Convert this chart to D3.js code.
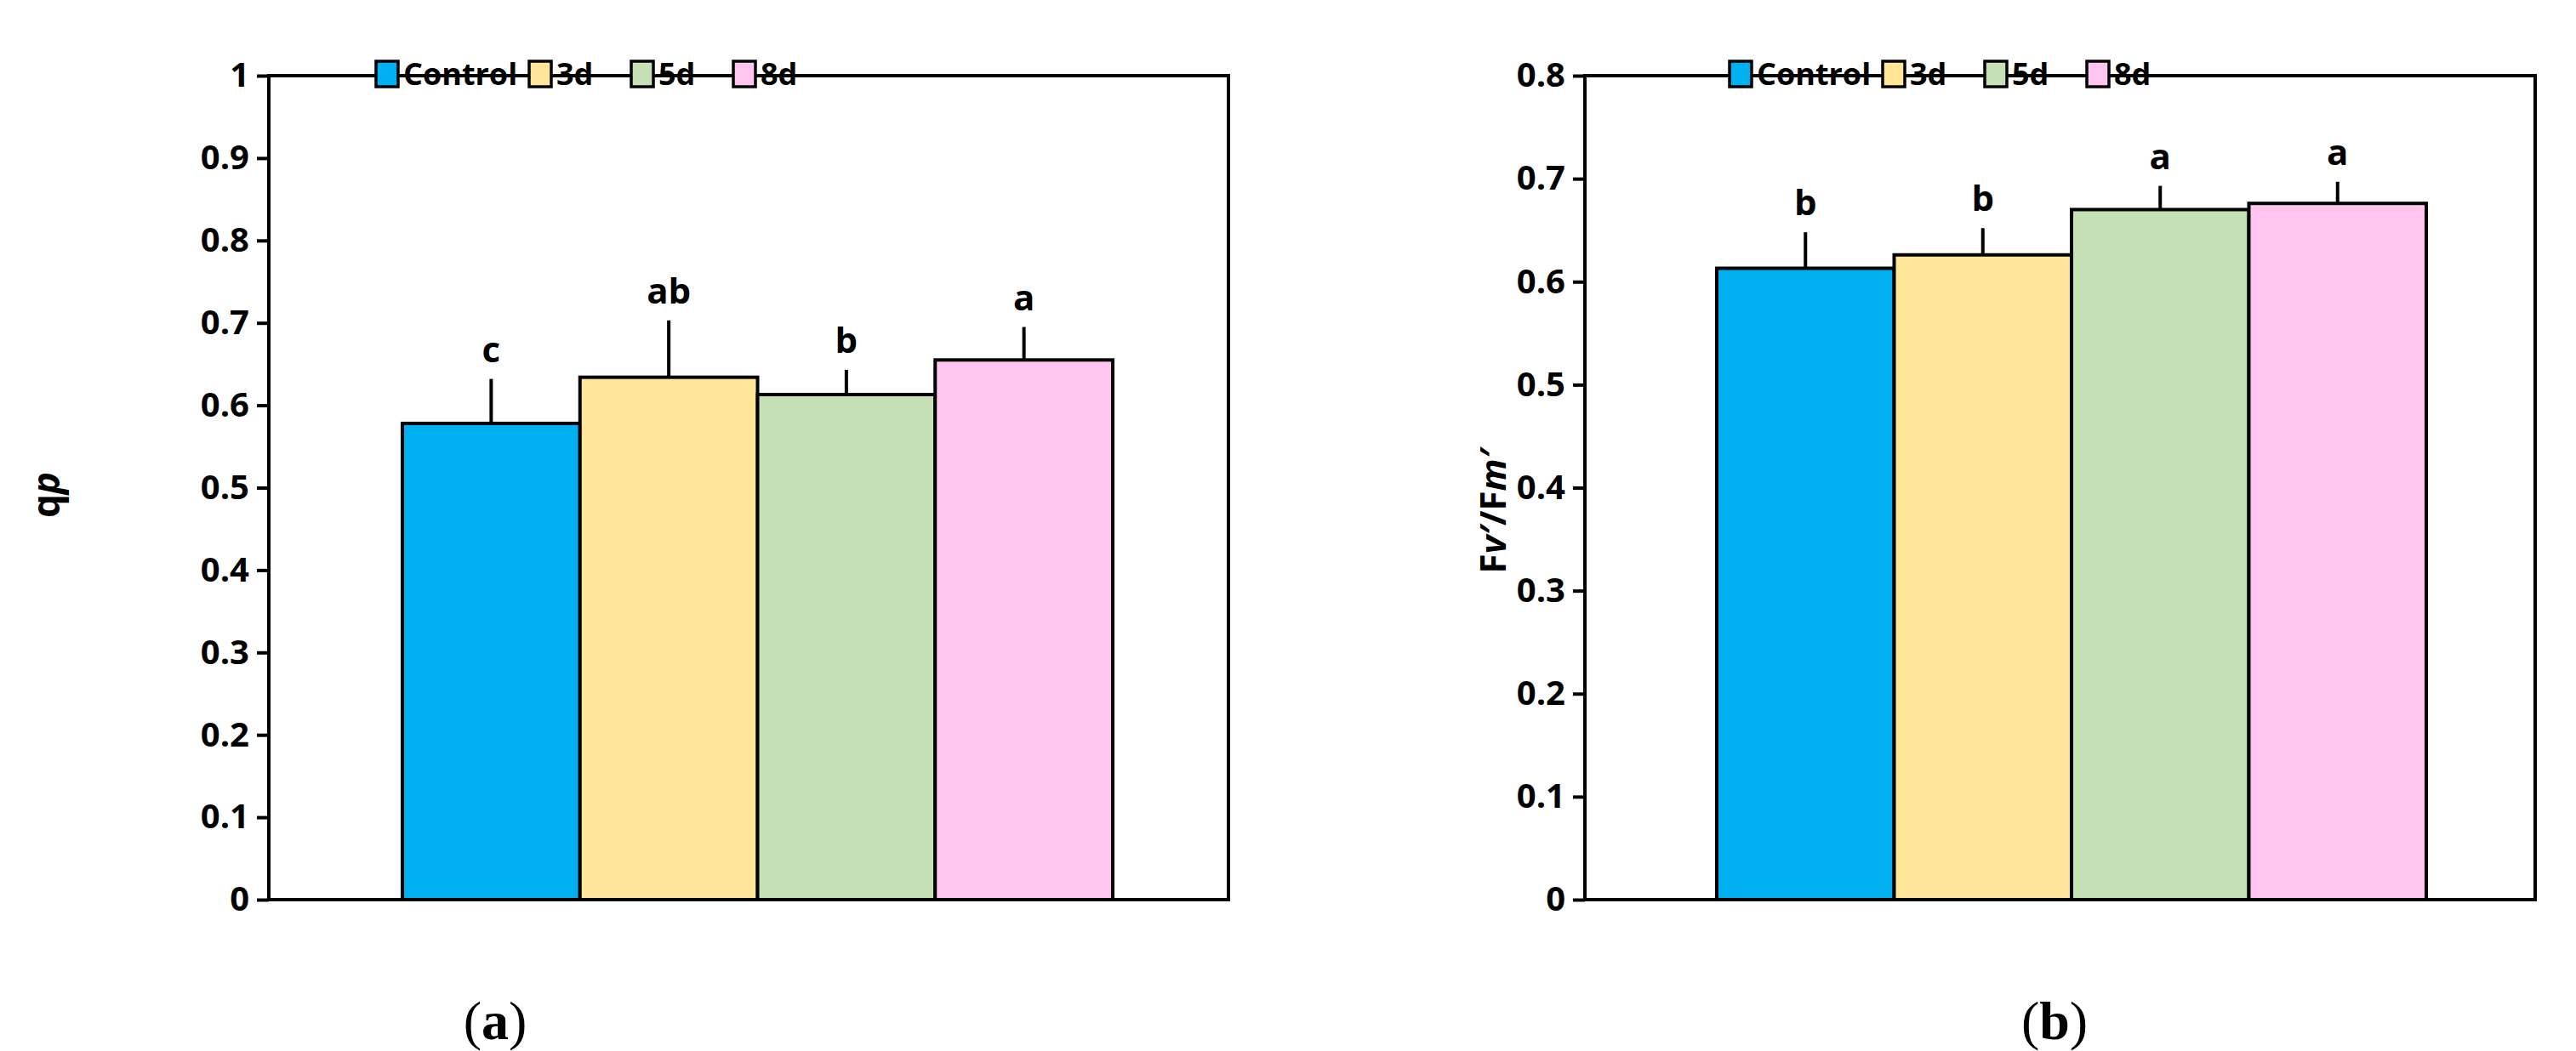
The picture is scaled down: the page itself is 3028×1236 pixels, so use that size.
<!DOCTYPE html><html><head><meta charset="utf-8"><script src="https://d3js.org/d3.v7.min.js"></script>
<style>body{margin:0;background:#fff}</style></head><body><svg id="c" width="3028" height="1236"></svg>
<script>
const groups=["Control","3d","5d","8d"];
const colors=["#00b0f0","#ffe699","#c5e0b4","#ffc5ee"];
const qpValues=[0.578,0.634,0.613,0.655];
const qpErrTop=[0.632,0.703,0.643,0.695];
const qpLetters=["c","ab","b","a"];
const fvValues=[0.613,0.626,0.670,0.676];
const fvErrTop=[0.648,0.652,0.693,0.697];
const fvLetters=["b","b","a","a"];
const qpTicks=[0,0.1,0.2,0.3,0.4,0.5,0.6,0.7,0.8,0.9,1];
const fvTicks=[0,0.1,0.2,0.3,0.4,0.5,0.6,0.7,0.8];
const svg=d3.select("#c");
const F="'Open Sans',sans-serif";
const TOP=89,BOT=1058;
function panel(o){
 const g=svg.append("g");
 const y=d3.scaleLinear().domain([0,o.max]).range([BOT,TOP]);
 const x=d3.scaleBand().domain(groups).range([o.bx0,o.bx1]).padding(0);
 g.append("rect").attr("x",o.ax0).attr("y",TOP).attr("width",o.ax1-o.ax0).attr("height",BOT-TOP).attr("fill","none").attr("stroke","#000").attr("stroke-width",4);
 const ax=g.append("g").attr("transform",`translate(${o.ax0},0)`).call(d3.axisLeft(y).tickValues(o.ticks).tickSize(14).tickFormat(d=>String(+d.toFixed(1))));
 ax.select(".domain").remove();
 ax.selectAll("line").attr("stroke-width",4);
 ax.selectAll("text").attr("font-family",F).attr("font-weight","bold").attr("font-size",40).attr("dx",-6).attr("fill","#000");
 groups.forEach((k,i)=>{
  const cx=x(k)+x.bandwidth()/2;
  g.append("line").attr("x1",cx).attr("x2",cx).attr("y1",y(o.vals[i])).attr("y2",y(o.err[i])).attr("stroke","#000").attr("stroke-width",4);
  g.append("rect").attr("x",x(k)).attr("y",y(o.vals[i])).attr("width",x.bandwidth()).attr("height",BOT-y(o.vals[i])).attr("fill",colors[i]).attr("stroke","#000").attr("stroke-width",4);
  g.append("text").attr("x",cx).attr("y",y(o.err[i])-20).attr("text-anchor","middle").attr("font-family",F).attr("font-weight","bold").attr("font-size",42).text(o.letters[i]);
 });
 let lx=o.lx;
 groups.forEach((k,i)=>{
  g.append("rect").attr("x",lx).attr("y",72).attr("width",26).attr("height",30).attr("fill",colors[i]).attr("stroke","#000").attr("stroke-width",3.5);
  g.append("text").attr("x",lx+32).attr("y",100).attr("font-family",F).attr("font-weight","bold").attr("font-size",36).text(k);
  lx+=[180,120,120,0][i];
 });
}
panel({max:1,ticks:qpTicks,ax0:316,ax1:1444,bx0:473,bx1:1308,vals:qpValues,err:qpErrTop,letters:qpLetters,lx:442});
panel({max:0.8,ticks:fvTicks,ax0:1863,ax1:2980,bx0:2018,bx1:2852,vals:fvValues,err:fvErrTop,letters:fvLetters,lx:2033});
svg.append("text").attr("transform","translate(70,582) rotate(-90)").attr("text-anchor","middle").attr("font-family",F).attr("font-weight","bold").attr("font-size",44)
 .call(t=>{t.append("tspan").text("q");t.append("tspan").attr("font-style","italic").text("p");});
svg.append("text").attr("transform","translate(1770,601) rotate(-90)").attr("text-anchor","middle").attr("font-family",F).attr("font-weight","bold").attr("font-size",42)
 .call(t=>{t.append("tspan").text("F");t.append("tspan").attr("font-style","italic").text("v′");t.append("tspan").text("/F");t.append("tspan").attr("font-style","italic").text("m′");});
[["(a)",582],["(b)",2415]].forEach(([s,cx])=>{
 const t=svg.append("text").attr("x",cx).attr("y",1222).attr("text-anchor","middle").attr("font-family","'Liberation Serif',serif").attr("font-size",64);
 t.append("tspan").text("(");t.append("tspan").attr("font-weight","bold").text(s.slice(1,2));t.append("tspan").text(")");
});
</script></body></html>
